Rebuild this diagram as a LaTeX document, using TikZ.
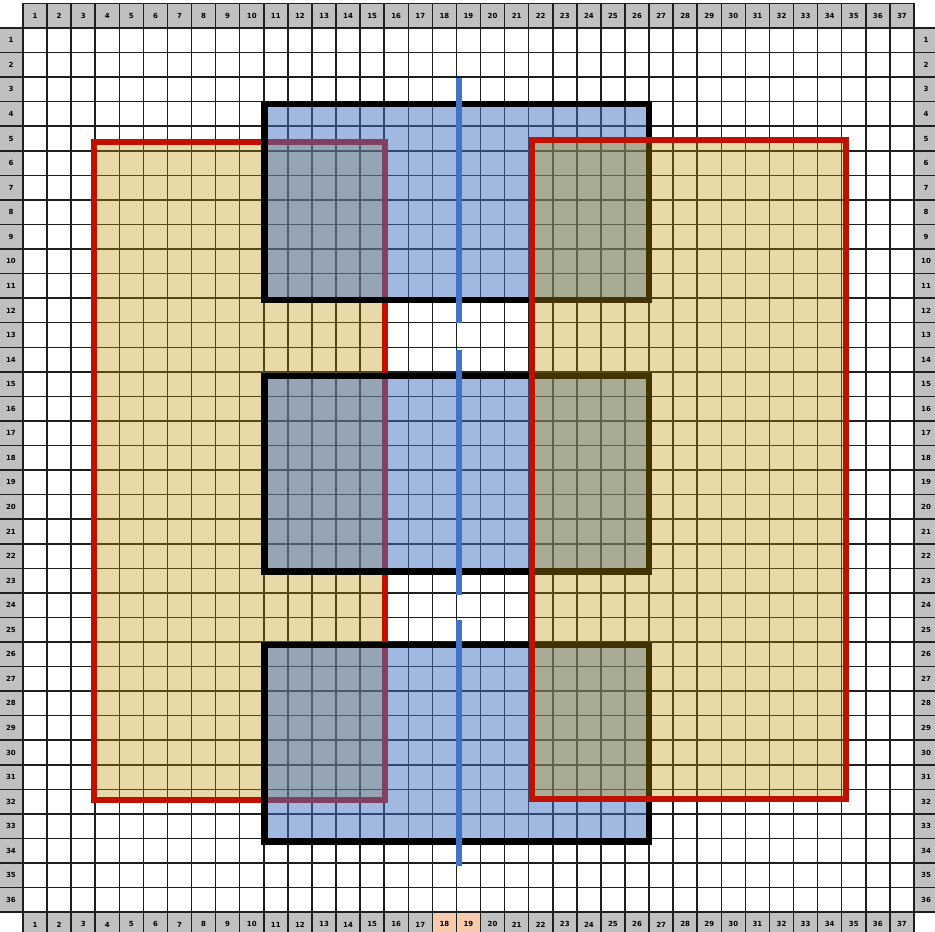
\documentclass[tikz,border=0pt]{standalone}
\usepackage{fontspec}
\setmainfont{DejaVu Sans}
\definecolor{hdrgray}{RGB}{192,192,192}
\definecolor{peach}{RGB}{248,203,173}
\definecolor{gblue}{RGB}{68,114,196}
\definecolor{gtan}{RGB}{189,147,6}
\definecolor{gred}{RGB}{192,16,0}
\begin{document}
\begin{tikzpicture}[x=1pt,y=-1pt,
  gl/.style={draw=black!88,line width=1.5pt},
  num/.style={font=\fontsize{7}{7}\selectfont\bfseries,inner sep=0pt},
  tanbox/.style={fill=gtan,fill opacity=0.35},
  redborder/.style={draw=gred,line width=6pt},
  bluebox/.style={fill=gblue,fill opacity=0.5},
  blackborder/.style={draw=black,line width=6.5pt},
  divider/.style={draw=gblue,line width=6.5pt}]
\useasboundingbox (0,0) rectangle (935,932);
\fill[white] (0,0) rectangle (935,932);
% grid and headers
\begin{scope}[shift={(23,28)},x=24.08pt,y=-24.56pt]
  \fill[hdrgray] (0,-1) rectangle (37,0);
  \fill[hdrgray] (0,36) rectangle (37,37);
  \fill[hdrgray] (-1,0) rectangle (0,36);
  \fill[hdrgray] (37,0) rectangle (38,36);
  \fill[peach] (17,36) rectangle (19,37);
  \foreach \k in {0,...,37} \draw[gl] (\k,-1) -- (\k,37);
  \foreach \k in {0,...,36} \draw[gl] (-1,\k) -- (38,\k);
  \draw[gl] (0,-1) -- (37,-1);
  \foreach \c in {1,...,37} {
    \node[num] (top\c) at (\c-0.5,-0.5) {\c};
    \node[num] (bot\c) at (\c-0.5,36.5) {\c};
  }
  \foreach \r in {1,...,36} {
    \node[num] (lft\r) at (-0.5,\r-0.5) {\r};
    \node[num] (rgt\r) at (37.5,\r-0.5) {\r};
  }
\end{scope}
% left tan region
\path[tanbox,redborder] (94,141.5) rectangle (385,800);
% blue blocks
\path[bluebox,blackborder] (264.5,104) rectangle (649,300);
\path[bluebox,blackborder] (264.5,376) rectangle (649,571.5);
\path[bluebox,blackborder] (264.5,645) rectangle (649,841.5);
% right tan region
\path[tanbox,redborder] (532,140) rectangle (845.5,799);
% blue dividers
\draw[divider] (459,78) -- (459,323);
\draw[divider] (459,350) -- (459,595);
\draw[divider] (459,620) -- (459,866);
\end{tikzpicture}
\end{document}
